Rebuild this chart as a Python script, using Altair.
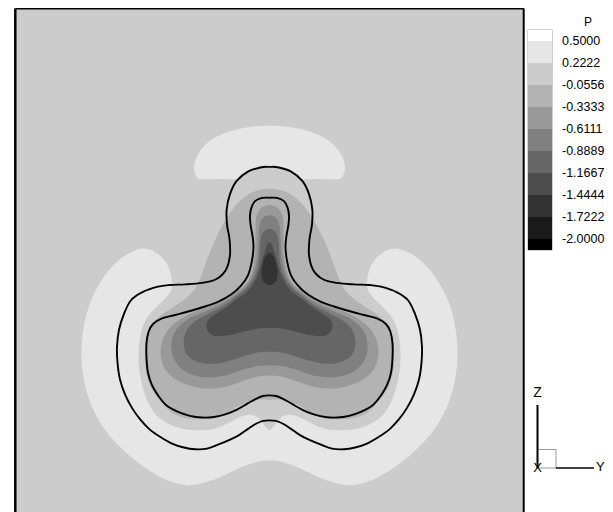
import altair as alt
import pandas as pd

# ---------------- colour levels (Tecplot style grey flood) ----------------
THRESHOLDS = [-2.0, -1.86111, -1.72222, -1.58333, -1.44444, -1.30556, -1.16667, -1.02778,
              -0.88889, -0.75, -0.61111, -0.47222, -0.33333, -0.19444, -0.05556,
              0.08333, 0.22222, 0.36111, 0.5]
GRAYS = ["#000000", "#1a1a1a", "#1a1a1a", "#333333", "#333333", "#4d4d4d", "#4d4d4d",
         "#666666", "#666666", "#808080", "#808080", "#999999", "#999999", "#b3b3b3", "#b3b3b3",
         "#cccccc", "#cccccc", "#e6e6e6", "#e6e6e6", "#ffffff"]
LEGEND_LABELS = ["0.5000", "0.2222", "-0.0556", "-0.3333", "-0.6111", "-0.8889",
                 "-1.1667", "-1.4444", "-1.7222", "-2.0000"]

# ---------------- flood regions (boundaries) ----------------
cap_x = [200, 196, 194, 195.5, 200, 207, 216, 228, 246, 269.5, 293, 311, 323, 332, 339, 343.5, 345,
         343, 339, 320, 300, 296, 290, 280, 269.5, 259, 249, 243, 239, 220]
cap_y = [160, 157, 151, 143, 135.5, 128.5, 123, 118.5, 114.5, 113, 114.5, 118.5, 123, 128.5, 135.5,
         143, 151, 157, 160, 160, 160, 157.5, 153.5, 150.5, 149.8, 150.5, 153.5, 157.5, 160, 160]

light_x = [141, 128, 116, 105, 96, 89, 84.5, 82, 81.5, 83, 86.5, 92, 99.5, 109, 120.5, 134, 149, 166,
           184, 200, 215, 230, 245, 258, 269.5,
           281, 294, 309, 324, 339, 355, 373, 390, 405, 418.5, 430, 439.5, 447, 452.5, 456, 457.5,
           457, 454.5, 450, 443, 434, 423, 411, 398,
           387, 378, 371.5, 368, 367, 369, 375, 384, 392, 397, 399.5, 400.5, 399.5, 396.5, 391, 383,
           373, 361, 347, 333, 320, 309, 299, 290, 282, 276, 272.5, 269.5,
           266.5, 263, 257, 249, 240, 230, 219, 206, 192, 178, 166, 156, 148, 142.5, 139.5, 138.5,
           139.5, 142, 147, 155, 164, 170, 172, 171, 167.5, 161, 152]
light_y = [221.5, 226, 234, 245, 258, 272, 287, 302, 317, 332, 347, 361, 374, 386, 397, 407.5, 417,
           425.5, 430, 429, 425, 419, 413, 409.5, 408.5,
           409.5, 413, 419, 425, 429, 430, 425.5, 417, 407.5, 397, 386, 374, 361, 347, 332, 317,
           302, 287, 272, 258, 245, 234, 226, 221.5,
           223, 228.5, 236, 245, 254, 260, 266.5, 274, 282.5, 292, 303, 316, 330, 343, 357, 368,
           375, 379.5, 381.5, 381.5, 379, 374.5, 370, 368, 370, 375.5, 380, 381.5,
           380, 375.5, 370, 368, 370, 374.5, 379, 381.5, 381.5, 379.5, 375, 368, 357, 343, 330, 316,
           303, 292, 282.5, 274, 266.5, 260, 254, 245, 236, 228.5, 223]

b3_x = [269.5, 258, 247, 238, 230, 223, 216, 210, 205, 200, 194, 185, 174, 163, 154, 148, 145.5, 145,
        146, 149.5, 155, 163, 173, 186, 200, 214, 228, 240, 250, 260, 269.5, 279, 289, 299, 311, 325,
        339, 353, 366, 376, 384, 389.5, 393, 394, 393.5, 391, 385, 376, 365, 354, 345, 339, 334, 329,
        323, 316, 309, 301, 292, 281]
b3_y = [168.5, 170, 174, 181, 190, 200, 212, 224, 236, 248, 258, 266, 272.5, 279, 286, 295, 305, 318,
        330, 341, 350, 358.5, 367, 371, 372, 370.5, 366, 360, 356, 354.5, 355, 354.5, 356, 360, 366,
        370.5, 372, 371, 367, 358.5, 350, 341, 330, 318, 305, 295, 286, 279, 272.5, 266, 258, 248,
        236, 224, 212, 200, 190, 181, 174, 170]

g99_x = [269.5, 263, 258.5, 256, 255.5, 255.5, 255.5, 254.5, 252.5, 249, 244, 238, 228, 216, 202, 190,
         179, 170, 164, 161, 161, 164, 170.5, 180, 192, 205, 218, 231, 244, 257, 269.5,
         282, 295, 308, 321, 334, 347, 359, 368.5, 375, 378, 378, 375, 369, 360, 349, 337, 323, 311,
         301, 295, 290, 286.5, 284.5, 283.5, 283.5, 283.5, 283, 280.5, 276]
g99_y = [183, 184.5, 188.5, 195, 203, 212, 222, 231, 240, 248.5, 254.5, 258, 264.5, 270, 275, 279,
         284.5, 291, 299, 308, 317, 326, 333.5, 339, 343, 345, 344.5, 342, 338, 334.5, 333.5,
         334.5, 338, 342, 344.5, 345, 343, 339, 333.5, 326, 317, 308, 299, 291, 284.5, 279, 275, 270,
         264.5, 258, 254.5, 248.5, 240, 231, 222, 212, 203, 195, 188.5, 184.5]

g80_x = [269.5, 264, 260.5, 259, 258.5, 258, 257, 255, 251, 245.5, 237, 227, 215, 202, 190, 180, 174,
         171.5, 172, 176, 183, 193, 205, 218, 231, 244, 257, 269.5,
         282, 295, 308, 321, 334, 346, 356, 363, 367, 367.5, 365, 359, 349, 337, 324, 312, 302, 293.5,
         288, 284, 282, 281, 280.5, 280, 278.5, 275]
g80_y = [192, 193.5, 198, 205, 213, 222, 231, 239.5, 248, 255, 261, 267.5, 273, 278, 282.5, 289, 296.5,
         305, 314, 322, 328.5, 333, 335, 334.5, 332, 328, 325, 324.5,
         325, 328, 332, 334.5, 335, 333, 328.5, 322, 314, 305, 296.5, 289, 282.5, 278, 273, 267.5, 261,
         255, 248, 239.5, 231, 222, 213, 205, 198, 193.5]

g66_x = [269.5, 265, 262, 260.5, 260, 259.5, 258, 254.5, 249, 244, 236.5, 227, 216, 204, 194, 187, 184,
         184, 187.5, 195, 206, 219, 233, 247, 259, 269.5,
         280, 292, 306, 320, 333, 344, 351.5, 355, 355, 352, 345, 335, 323, 312, 302.5, 295, 290,
         284.5, 281, 279.5, 279, 278.5, 277, 274]
g66_y = [204, 205.5, 209, 214, 220.5, 229, 238, 246.5, 254, 258.5, 263.5, 270, 275.5, 281, 286.5, 293,
         300.5, 308.5, 315.5, 320.5, 323, 322.5, 319.5, 315.5, 313, 312.5,
         313, 315.5, 319.5, 322.5, 323, 320.5, 315.5, 308.5, 300.5, 293, 286.5, 281, 275.5, 270, 263.5,
         258.5, 254, 246.5, 238, 229, 220.5, 214, 209, 205.5]

g4d_x = [269.5, 267, 265, 262.5, 260, 256, 251, 245.5, 237.5, 227.5, 218, 211, 207.5, 206.5, 209,
         215.5, 228, 244, 258, 269.5,
         281, 295, 311, 323.5, 330, 332.5, 331.5, 328, 321, 311.5, 301.5, 293.5, 288, 283, 279, 276.5,
         274, 272]
g4d_y = [216, 218, 223.5, 230.5, 239, 248, 255.5, 260.5, 265.5, 272.5, 278, 282, 286, 290.5, 295.5,
         298.5, 298, 294.5, 292, 291.5,
         292, 294.5, 298, 298.5, 295.5, 290.5, 286, 282, 278, 272.5, 265.5, 260.5, 255.5, 248, 239,
         230.5, 223.5, 218]

g33_x = [269.5, 265.5, 263, 261.5, 262, 265, 269.5, 274, 277, 277.5, 276, 273.5]
g33_y = [225, 228, 234, 241, 247.5, 252, 253.5, 252, 247.5, 241, 234, 228]

# ---------------- the two black contour lines ----------------
outer_x = [269.5, 261.5, 248.3, 236.7, 230, 226.7, 227, 229.5, 230, 226, 216, 202, 185, 170, 158, 142,
           131, 124, 119, 117, 117.5, 120, 125, 132, 140, 149, 160, 172, 184, 195, 207, 218, 229, 239,
           248, 256, 263, 269.5, 276, 283, 291, 300, 310, 321, 332, 344, 355, 367, 379, 390, 399, 407,
           414, 419, 421.5, 422, 420, 415, 408, 397, 381, 369, 354, 337, 323, 313, 309, 309.5, 312,
           312.3, 309, 302.3, 290.7, 277.5]
outer_y = [149.3, 149.6, 153.3, 161.7, 173.3, 186.7, 200, 213, 227, 240, 248.5, 251.7, 253, 253.5, 255,
           260, 267, 279, 293, 308, 322, 337, 350, 362, 372, 380.5, 387.5, 393.5, 397, 398.5, 398,
           394.5, 390.5, 386, 380.5, 376, 373.5, 373, 373.5, 376, 380.5, 386, 390.5, 394.5, 398, 398.5,
           397, 393.5, 387.5, 380.5, 372, 362, 350, 337, 322, 308, 293, 279, 267, 260, 255, 253.5, 253,
           251.7, 248.5, 240, 227, 213, 200, 186.7, 173.3, 161.7, 153.3, 149.6]

inner_x = [269.5, 262, 255, 251.5, 250, 250.5, 252.5, 253.5, 252, 248, 241, 231, 219, 205, 190, 175,
           162, 153, 148.5, 146.5, 146.5, 148, 152, 158, 166, 177, 190, 202, 214, 226, 237, 247, 256,
           263, 269.5, 276, 283, 292, 302, 313, 325, 337, 349, 362, 373, 381, 387, 391, 392.5, 392.5,
           390.5, 386, 377, 364, 349, 334, 320, 308, 298, 291, 287, 285.5, 286.5, 288.5, 289, 287.5,
           284, 277]
inner_y = [176.5, 176.7, 179.5, 185, 192, 200, 210, 220, 232, 245, 254, 262, 268, 272.5, 276.5, 280,
           283, 288, 295, 305, 318, 331, 342, 351, 359.5, 365, 369, 370.5, 370, 367.5, 363.5, 358.5,
           354, 351.5, 351, 351.5, 354, 358.5, 363.5, 367.5, 370, 370.5, 369, 365, 359.5, 351, 342,
           331, 318, 305, 295, 288, 283, 280, 276.5, 272.5, 268, 262, 254, 245, 232, 220, 210, 200,
           192, 185, 179.5, 176.7]

FLOODS = [("cap", 0.30, cap_x, cap_y), ("light", 0.30, light_x, light_y),
          ("b3", -0.20, b3_x, b3_y), ("g99", -0.50, g99_x, g99_y),
          ("g80", -0.70, g80_x, g80_y), ("g66", -1.00, g66_x, g66_y),
          ("g4d", -1.30, g4d_x, g4d_y), ("g33", -1.60, g33_x, g33_y)]
LINES = [("outer", outer_x, outer_y), ("inner", inner_x, inner_y)]

rows = []
for name, p, xs, ys in FLOODS:
    assert len(xs) == len(ys), name
    for i, (x, y) in enumerate(zip(xs, ys)):
        rows.append({"region": name, "p": p, "i": i, "x": x, "y": y})
flood_df = pd.DataFrame(rows)

lrows = []
for name, xs, ys in LINES:
    assert len(xs) == len(ys), name
    for i, (x, y) in enumerate(zip(xs, ys)):
        lrows.append({"line": name, "i": i, "x": x, "y": y})
line_df = pd.DataFrame(lrows)

# ---------------- layout ----------------
W, H = 508.4, 503.5
XS = alt.Scale(domain=[15.3, 523.7], nice=False, zero=False)
YS = alt.Scale(domain=[9.5, 453.9], nice=False, zero=False, reverse=True)
FONT = "Liberation Sans"
MINUS = "\u2212"

label_expr = ("indexof([" + ",".join("'" + s + "'" for s in LEGEND_LABELS) +
              "], replace(datum.label, '" + MINUS + "', '-')) >= 0 ? replace(datum.label, '" +
              MINUS + "', '-') : ''")

fill_enc = alt.Fill(
    "p:Q",
    scale=alt.Scale(type="threshold", domain=THRESHOLDS, range=GRAYS),
    legend=alt.Legend(type="gradient", direction="vertical", orient="none",
                      legendX=512.7, legendY=21.5, title=None, padding=0,
                      gradientLength=220, gradientThickness=24, gradientStrokeWidth=0,
                      format=".4f", labelExpr=label_expr, labelOverlap=False,
                      labelFont=FONT, labelFontSize=12.5, labelColor="black",
                      labelOffset=10, labelBaseline="middle", labelLimit=200),
)

layers = []
for name, p, xs, ys in FLOODS:
    layers.append(
        alt.Chart(flood_df).transform_filter(alt.datum.region == name)
        .mark_line(interpolate="cardinal-closed", strokeWidth=0)
        .encode(x=alt.X("x:Q", scale=XS, axis=None),
                y=alt.Y("y:Q", scale=YS, axis=None),
                order="i:Q", detail="region:N", fill=fill_enc)
    )

layers.append(
    alt.Chart(line_df).mark_line(interpolate="cardinal-closed", stroke="black", strokeWidth=1.9)
    .encode(x=alt.X("x:Q", scale=XS, axis=None), y=alt.Y("y:Q", scale=YS, axis=None),
            order="i:Q", detail="line:N")
)

one = pd.DataFrame({"k": [0]})
# frame (left, top, right)
layers.append(alt.Chart(one).mark_rule(color="black", strokeWidth=2.5)
              .encode(x=alt.value(0), y=alt.value(0), y2=alt.value(H)))
layers.append(alt.Chart(one).mark_rule(color="black", strokeWidth=2)
              .encode(x=alt.value(0), x2=alt.value(W), y=alt.value(0)))
layers.append(alt.Chart(one).mark_rule(color="black", strokeWidth=2)
              .encode(x=alt.value(W), y=alt.value(0), y2=alt.value(H)))

# legend outline and title
layers.append(alt.Chart(one).mark_rect(fill="transparent", stroke="#8a8a8a", strokeWidth=0.8)
              .encode(x=alt.value(512.7), x2=alt.value(536.7), y=alt.value(21.5), y2=alt.value(241.5)))
layers.append(alt.Chart(one).mark_text(font=FONT, fontSize=12, color="black", baseline="middle")
              .encode(x=alt.value(572.7), y=alt.value(13.5), text=alt.value("P")))

# axis triad
layers.append(alt.Chart(one).mark_rect(fill="transparent", stroke="#9a9a9a", strokeWidth=1)
              .encode(x=alt.value(522.2), x2=alt.value(540.7), y=alt.value(441), y2=alt.value(459.5)))
layers.append(alt.Chart(one).mark_rule(color="black", strokeWidth=2)
              .encode(x=alt.value(522.2), y=alt.value(396.5), y2=alt.value(459.5)))
layers.append(alt.Chart(one).mark_rule(color="black", strokeWidth=1.5)
              .encode(x=alt.value(540.7), x2=alt.value(578.7), y=alt.value(459.5)))
layers.append(alt.Chart(one).mark_text(font=FONT, fontSize=14, color="black", baseline="middle")
              .encode(x=alt.value(522.2), y=alt.value(384.5), text=alt.value("Z")))
layers.append(alt.Chart(one).mark_text(font=FONT, fontSize=13, color="black", baseline="middle")
              .encode(x=alt.value(522.2), y=alt.value(459), text=alt.value("X")))
layers.append(alt.Chart(one).mark_text(font=FONT, fontSize=13, color="black", baseline="middle",
                                       align="left")
              .encode(x=alt.value(580.7), y=alt.value(458.5), text=alt.value("Y")))

chart = alt.layer(*layers).properties(
    width=W, height=H,
    autosize=alt.AutoSizeParams(type="none"),
    padding={"left": 7.3, "top": 0.5, "right": 81.3, "bottom": 0},
).configure_view(fill="#cccccc", stroke=None)

chart.save("out.html", embed_options={"renderer": "svg", "actions": False})
